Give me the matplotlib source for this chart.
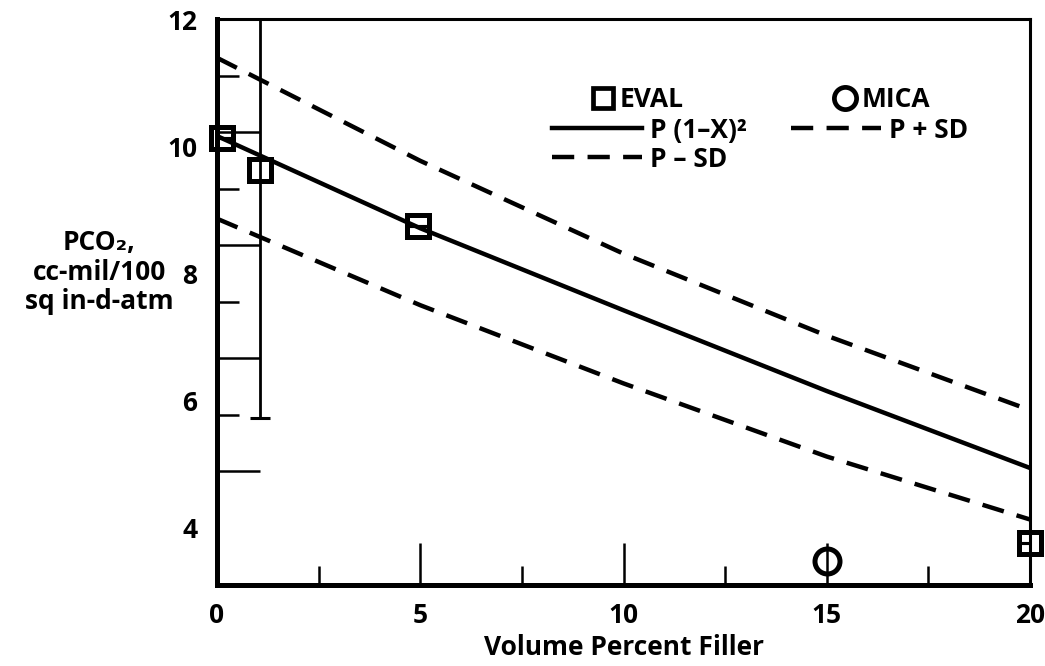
import matplotlib
matplotlib.use("Agg")
import matplotlib.pyplot as plt
from matplotlib.lines import Line2D
import numpy as np

plt.rcParams['font.family'] = ['Open Sans', 'DejaVu Sans']
plt.rcParams['font.weight'] = 'bold'

# data
eval_x = [0.12, 1.06, 4.94, 20.0]
eval_y = [10.13, 9.62, 8.74, 3.76]
eval_err_lo = [0, 3.89, 0, 0]
eval_err_hi = [0, 2.40, 0, 0]

mica_x = [15.0]
mica_y = [3.48]

curve_x = [0, 5, 10, 15, 20]
p_fit = [10.16, 8.71, 7.42, 6.15, 4.94]
p_plus_sd = [11.39, 9.77, 8.31, 7.02, 5.85]
p_minus_sd = [8.86, 7.50, 6.27, 5.12, 4.13]

y_labels = [4, 6, 8, 10, 12]
x_labels = [0, 5, 10, 15, 20]

FS = 19

fig = plt.figure(figsize=(10.45, 6.66), dpi=100)
ax = fig.add_axes([217 / 1045, 81 / 666, 813 / 1045, 566 / 666])

dash = (0, (5, 3))
ax.plot(curve_x, p_fit, color='black', lw=3.2)
ax.plot(curve_x, p_plus_sd, color='black', lw=3.2, linestyle=dash)
ax.plot(curve_x, p_minus_sd, color='black', lw=3.2, linestyle=dash)

ax.errorbar(eval_x, eval_y, yerr=[eval_err_lo, eval_err_hi], fmt='none',
            ecolor='black', elinewidth=2, capsize=7, capthick=2.2)
ax.plot(eval_x, eval_y, 's', ms=15.5, mfc='none', mec='black', mew=3.6, clip_on=False)
ax.plot(mica_x, mica_y, 'o', ms=18, mfc='none', mec='black', mew=3.6, clip_on=False)

ax.set_xlim(0, 20)
ax.set_ylim(3.1, 11.98)

for side in ['left', 'bottom']:
    ax.spines[side].set_linewidth(3.6)
for side in ['top', 'right']:
    ax.spines[side].set_linewidth(2.2)

# tick marks: labels at even values, marks on a 0.889 grid (as in the scan)
ax.set_yticks(y_labels)
ax.set_yticklabels([str(v) for v in y_labels])
ax.tick_params(axis='y', which='major', length=0, pad=14, labelsize=FS)
grid = 4 + np.arange(10) * 8 / 9
ax.set_yticks(grid[0::2], minor=True)
ax.tick_params(axis='y', which='minor', direction='in', length=16, width=1.8)
sec = ax.secondary_yaxis('left')
sec.set_yticks(grid[1::2])
sec.set_yticklabels([])
sec.tick_params(direction='in', length=31, width=1.8)
sec.spines['left'].set_visible(False)

ax.set_xticks(x_labels)
ax.set_xticklabels([str(v) for v in x_labels])
ax.tick_params(axis='x', which='major', direction='in', length=30, width=1.8,
               pad=12, labelsize=FS)
ax.set_xticks([2.5, 7.5, 12.5, 17.5], minor=True)
ax.tick_params(axis='x', which='minor', direction='in', length=14, width=1.8)

ax.set_xlabel('Volume Percent Filler', fontsize=FS, fontweight='bold', labelpad=4)
ax.set_ylabel('PCO\u2082,\ncc-mil/100\nsq in-d-atm', fontsize=FS, fontweight='bold',
              rotation=0, ha='center', va='center', linespacing=1.1)
ax.yaxis.set_label_coords(-0.145, 0.553)

# legend, marker row
mk_handles = [
    Line2D([], [], marker='s', ms=14, mfc='none', mec='black', mew=3.4, linestyle='none'),
    Line2D([], [], marker='o', ms=16, mfc='none', mec='black', mew=3.4, linestyle='none'),
]
leg1 = ax.legend(mk_handles, ['EVAL', 'MICA'], ncol=2, loc='center left',
                 bbox_to_anchor=(0.458, 0.857), frameon=False,
                 prop={'size': FS, 'weight': 'bold'}, handlelength=1.0,
                 handletextpad=0.15, columnspacing=5.6, borderpad=0,
                 borderaxespad=0)
ax.add_artist(leg1)

# legend, line rows
ln_handles = [
    Line2D([], [], color='black', lw=3.2),
    Line2D([], [], color='black', lw=3.2, linestyle=dash),
    Line2D([], [], color='black', lw=3.2, linestyle=dash),
]
ax.legend(ln_handles, ['P (1\u2013X)\u00b2', 'P \u2013 SD', 'P + SD'], ncol=2,
          loc='center left', bbox_to_anchor=(0.412, 0.778), frameon=False,
          prop={'size': FS, 'weight': 'bold'}, handlelength=3.4,
          handletextpad=0.3, columnspacing=1.7, labelspacing=0.08,
          borderpad=0, borderaxespad=0)

fig.savefig('out.png', dpi=100, facecolor='white')
